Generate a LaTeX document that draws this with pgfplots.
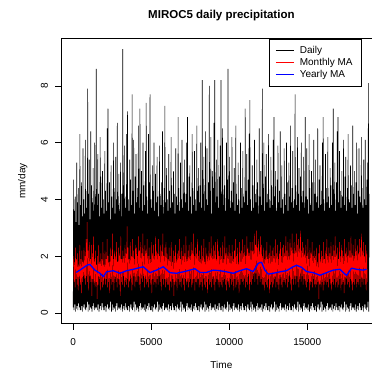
\documentclass[border=0pt]{standalone}
\usepackage{pgfplots}
\pgfplotsset{compat=1.18}
\usepackage{fontspec}
\setmainfont{Liberation Sans}
\begin{document}
\begin{tikzpicture}
\begin{axis}[
  scale only axis, width=320pt, height=285pt,
  xmin=-760, xmax=19760, ymin=-0.37, ymax=9.67,
  xtick={0,5000,10000,15000}, ytick={0,2,4,6,8},
  scaled ticks=false,
  /pgf/number format/1000 sep={},
  /pgf/number format/assume math mode=true,
  tick pos=left, tick align=outside, major tick length=6pt,
  tick style={black, line width=0.5pt},
  axis line style={black, line width=0.6pt},
  ticklabel style={font=\fontsize{10}{11}\selectfont},
  yticklabel style={xshift=-4pt, rotate=90, anchor=south},
  xticklabel style={anchor=north, yshift=-5pt},
  title={\bfseries MIROC5 daily precipitation},
  title style={font=\fontsize{11.5}{13}\selectfont, at={(axis description cs:0.5,1.0474)}, anchor=base},
  xlabel={Time},
  xlabel style={font=\fontsize{10}{11}\selectfont, at={(axis description cs:0.5,-0.157)}, anchor=base},
  ylabel={mm/day},
  ylabel style={font=\fontsize{10}{11}\selectfont, at={(axis description cs:-0.1125,0.5)}, anchor=base},
  legend style={at={(axis description cs:0.936,1)}, anchor=north east,
    font=\fontsize{10}{12}\selectfont, cells={anchor=west}, nodes={inner sep=1.6pt},
    row sep=0pt, column sep=4pt, inner xsep=6.5pt, inner ysep=6pt},
  legend image code/.code={\draw[#1, line width=0.9pt] (0pt,0pt) -- (18pt,0pt);},
]
\addplot[black, line width=0.6pt, line join=bevel] table[x expr=\coordindex*25, y index=0, header=false, row sep=\\] {
0.2\\4.7\\0.1\\3.6\\0.3\\4.1\\0.05\\3.2\\0.15\\5.3\\0.25\\3.9\\0.1\\4.4\\0.35\\3.1\\0.2\\6.3\\0.1\\3.8\\
0.1\\4.6\\0.25\\3.4\\0.05\\5.8\\0.2\\4.0\\0.3\\3.5\\0.15\\6.1\\0.1\\4.3\\0.2\\3.7\\0.4\\7.9\\0.05\\4.2\\
0.3\\5.4\\0.1\\3.3\\0.2\\6.4\\0.15\\4.5\\0.05\\3.9\\0.25\\5.1\\0.35\\3.6\\0.1\\6.0\\0.2\\4.1\\0.15\\8.6\\
0.2\\3.8\\0.1\\5.6\\0.3\\4.2\\0.05\\3.4\\0.15\\6.2\\0.25\\4.8\\0.1\\3.7\\0.35\\5.0\\0.2\\4.0\\0.1\\3.5\\
0.1\\5.7\\0.25\\4.3\\0.05\\3.6\\0.2\\6.5\\0.3\\7.2\\0.15\\3.9\\0.1\\4.6\\0.2\\3.3\\0.4\\5.2\\0.05\\4.1\\
0.3\\3.7\\0.1\\6.0\\0.2\\4.4\\0.15\\3.5\\0.05\\5.5\\0.25\\4.0\\0.35\\6.7\\0.1\\3.8\\0.2\\4.9\\0.15\\3.6\\
0.2\\5.3\\0.1\\4.2\\0.3\\3.4\\0.05\\9.3\\0.15\\4.5\\0.25\\5.9\\0.1\\3.7\\0.35\\4.1\\0.2\\6.3\\0.1\\7.1\\
0.1\\4.0\\0.25\\3.6\\0.05\\5.4\\0.2\\4.7\\0.3\\3.8\\0.15\\7.7\\0.1\\4.3\\0.2\\6.1\\0.4\\3.5\\0.05\\4.8\\
0.3\\5.6\\0.1\\3.9\\0.2\\4.4\\0.15\\6.6\\0.05\\3.7\\0.25\\7.2\\0.35\\4.2\\0.1\\5.0\\0.2\\3.6\\0.15\\6.0\\
0.2\\4.5\\0.1\\3.8\\0.3\\5.7\\0.05\\7.4\\0.15\\4.1\\0.25\\3.5\\0.1\\6.3\\0.35\\4.6\\0.2\\7.7\\0.1\\4.0\\
0.1\\3.7\\0.25\\5.2\\0.05\\4.3\\0.2\\6.0\\0.3\\3.6\\0.15\\4.9\\0.1\\3.9\\0.2\\5.5\\0.4\\4.1\\0.05\\3.4\\
0.3\\5.9\\0.1\\4.2\\0.2\\3.8\\0.15\\4.6\\0.05\\6.4\\0.25\\3.5\\0.35\\4.4\\0.1\\7.3\\0.2\\3.9\\0.15\\5.1\\
0.2\\4.0\\0.1\\3.6\\0.3\\5.6\\0.05\\4.3\\0.15\\3.7\\0.25\\6.2\\0.1\\4.5\\0.35\\3.9\\0.2\\5.0\\0.1\\4.2\\
0.1\\3.5\\0.25\\5.8\\0.05\\4.1\\0.2\\3.8\\0.3\\6.9\\0.15\\4.4\\0.1\\3.6\\0.2\\5.3\\0.4\\4.0\\0.05\\6.1\\
0.3\\3.7\\0.1\\4.6\\0.2\\5.4\\0.15\\3.9\\0.05\\4.2\\0.25\\6.0\\0.35\\6.9\\0.1\\3.6\\0.2\\4.8\\0.15\\5.2\\
0.2\\4.1\\0.1\\3.5\\0.3\\6.3\\0.05\\4.4\\0.15\\3.8\\0.25\\5.7\\0.1\\4.0\\0.35\\3.6\\0.2\\6.6\\0.1\\4.3\\
0.1\\5.1\\0.25\\3.9\\0.05\\4.5\\0.2\\6.0\\0.3\\3.7\\0.15\\8.2\\0.1\\4.2\\0.2\\5.5\\0.4\\3.6\\0.05\\6.4\\
0.3\\4.0\\0.1\\5.8\\0.2\\3.8\\0.15\\4.6\\0.05\\8.0\\0.25\\4.3\\0.35\\6.2\\0.1\\3.5\\0.2\\5.0\\0.15\\4.4\\
0.2\\6.7\\0.1\\8.2\\0.3\\3.9\\0.05\\5.4\\0.15\\4.1\\0.25\\6.1\\0.1\\3.7\\0.35\\4.8\\0.2\\5.9\\0.1\\8.2\\
0.1\\4.2\\0.25\\6.5\\0.05\\3.8\\0.2\\5.2\\0.3\\4.5\\0.15\\3.6\\0.1\\6.0\\0.2\\4.7\\0.4\\8.6\\0.05\\4.0\\
0.3\\5.5\\0.1\\3.7\\0.2\\4.3\\0.15\\6.2\\0.05\\3.9\\0.25\\4.6\\0.35\\5.1\\0.1\\3.6\\0.2\\6.6\\0.15\\4.2\\
0.2\\3.8\\0.1\\5.3\\0.3\\4.0\\0.05\\3.5\\0.15\\6.0\\0.25\\4.4\\0.1\\3.7\\0.35\\5.7\\0.2\\4.1\\0.1\\3.9\\
0.1\\7.2\\0.25\\4.3\\0.05\\5.6\\0.2\\3.8\\0.3\\4.7\\0.15\\6.3\\0.1\\7.5\\0.2\\4.0\\0.4\\3.6\\0.05\\5.2\\
0.3\\4.5\\0.1\\3.7\\0.2\\6.1\\0.15\\4.2\\0.05\\3.9\\0.25\\5.4\\0.35\\4.6\\0.1\\3.5\\0.2\\6.5\\0.15\\4.1\\
0.2\\5.0\\0.1\\3.8\\0.3\\7.9\\0.05\\4.4\\0.15\\6.0\\0.25\\3.6\\0.1\\4.8\\0.35\\5.6\\0.2\\3.9\\0.1\\4.2\\
0.1\\6.3\\0.25\\4.0\\0.05\\3.7\\0.2\\5.5\\0.3\\4.5\\0.15\\3.8\\0.1\\6.1\\0.2\\6.9\\0.4\\4.1\\0.05\\5.0\\
0.3\\3.6\\0.1\\4.7\\0.2\\5.9\\0.15\\3.9\\0.05\\4.3\\0.25\\6.4\\0.35\\3.7\\0.1\\5.2\\0.2\\4.0\\0.15\\3.5\\
0.2\\5.8\\0.1\\4.2\\0.3\\3.8\\0.05\\6.0\\0.15\\4.6\\0.25\\3.6\\0.1\\5.3\\0.35\\4.1\\0.2\\6.6\\0.1\\3.9\\
0.1\\4.4\\0.25\\5.7\\0.05\\3.7\\0.2\\4.0\\0.3\\7.7\\0.15\\4.5\\0.1\\3.8\\0.2\\6.2\\0.4\\4.2\\0.05\\5.1\\
0.3\\3.6\\0.1\\4.8\\0.2\\6.0\\0.15\\3.9\\0.05\\4.3\\0.25\\5.5\\0.35\\3.7\\0.1\\6.9\\0.2\\4.1\\0.15\\5.8\\
0.2\\4.0\\0.1\\3.5\\0.3\\6.3\\0.05\\4.4\\0.15\\3.8\\0.25\\5.0\\0.1\\4.6\\0.35\\3.6\\0.2\\6.1\\0.1\\4.2\\
0.1\\5.4\\0.25\\3.9\\0.05\\4.1\\0.2\\6.5\\0.3\\3.7\\0.15\\4.7\\0.1\\5.2\\0.2\\3.8\\0.4\\4.3\\0.05\\6.0\\
0.3\\6.9\\0.1\\4.0\\0.2\\3.6\\0.15\\5.6\\0.05\\4.4\\0.25\\3.9\\0.35\\6.2\\0.1\\4.1\\0.2\\3.7\\0.15\\5.1\\
0.2\\4.5\\0.1\\3.8\\0.3\\6.0\\0.05\\7.2\\0.15\\4.2\\0.25\\5.3\\0.1\\3.6\\0.35\\4.6\\0.2\\6.4\\0.1\\6.9\\
0.1\\3.9\\0.25\\5.7\\0.05\\4.3\\0.2\\3.7\\0.3\\5.0\\0.15\\4.1\\0.1\\6.1\\0.2\\3.8\\0.4\\4.8\\0.05\\5.5\\
0.3\\3.6\\0.1\\4.4\\0.2\\6.3\\0.15\\4.0\\0.05\\3.9\\0.25\\5.2\\0.35\\4.5\\0.1\\3.7\\0.2\\6.6\\0.15\\4.2\\
0.2\\5.0\\0.1\\3.8\\0.3\\4.6\\0.05\\6.0\\0.15\\3.5\\0.25\\4.3\\0.1\\5.8\\0.35\\4.1\\0.2\\3.9\\0.1\\6.2\\
0.1\\4.4\\0.25\\3.7\\0.05\\5.4\\0.2\\4.0\\0.3\\6.1\\0.15\\3.8\\0.1\\4.7\\0.2\\5.3\\0.4\\8.1\\0.05\\4.2\\
};
\addplot[red, line width=0.4pt, line join=bevel] table[x expr=15+\coordindex*33.7, y index=0, header=false, row sep=\\] {
2.0\\1.1\\1.8\\0.9\\2.3\\1.2\\1.9\\1.0\\2.1\\0.8\\1.7\\1.2\\2.4\\1.0\\1.9\\0.7\\2.2\\1.1\\1.8\\1.3\\
2.3\\1.2\\2.0\\1.0\\2.6\\1.3\\3.2\\1.1\\2.2\\0.8\\2.5\\1.3\\1.9\\1.1\\2.4\\0.6\\2.1\\1.2\\2.7\\1.0\\
1.9\\0.9\\2.2\\1.1\\1.7\\0.5\\2.0\\1.0\\2.4\\1.2\\1.8\\0.8\\2.1\\1.1\\1.9\\0.9\\2.5\\1.0\\1.7\\1.2\\
2.2\\1.0\\1.9\\1.2\\2.6\\0.9\\2.0\\1.1\\1.8\\0.7\\2.3\\1.2\\2.0\\1.0\\2.8\\1.1\\1.9\\0.8\\2.2\\1.2\\
2.0\\1.1\\2.5\\0.9\\1.8\\1.2\\2.3\\1.0\\2.1\\0.6\\2.7\\1.1\\1.9\\1.0\\2.2\\1.3\\2.0\\0.9\\2.4\\1.1\\
2.1\\1.0\\3.05\\1.2\\2.3\\0.9\\1.9\\1.1\\2.5\\1.2\\2.0\\0.8\\2.6\\1.0\\2.2\\1.3\\1.9\\0.9\\2.4\\1.1\\
2.3\\1.1\\2.0\\1.3\\2.7\\1.0\\2.2\\0.8\\2.5\\1.2\\2.1\\1.1\\2.8\\1.3\\2.0\\0.9\\2.4\\1.2\\2.2\\1.0\\
2.6\\1.1\\2.0\\0.9\\2.3\\1.2\\1.9\\1.0\\2.5\\0.7\\2.1\\1.2\\2.4\\1.0\\2.0\\1.1\\2.7\\0.9\\2.2\\1.2\\
2.1\\1.0\\2.6\\1.3\\2.0\\1.1\\2.4\\0.8\\2.2\\1.2\\2.8\\1.0\\2.0\\1.2\\2.3\\0.9\\2.5\\1.1\\2.1\\1.0\\
1.9\\1.0\\2.3\\0.8\\2.0\\1.1\\2.5\\0.9\\1.8\\1.2\\2.2\\0.6\\2.0\\1.0\\2.4\\1.1\\1.9\\0.8\\2.1\\1.2\\
2.2\\1.0\\2.6\\1.1\\1.9\\0.9\\2.3\\1.2\\2.0\\1.0\\2.4\\0.8\\2.1\\1.2\\2.7\\1.0\\1.9\\1.1\\2.2\\0.9\\
2.4\\1.1\\2.0\\1.2\\2.5\\0.9\\2.2\\1.0\\2.8\\1.2\\2.0\\0.8\\2.3\\1.1\\2.1\\1.0\\2.6\\1.2\\2.0\\0.9\\
2.2\\1.0\\1.9\\1.1\\2.4\\0.8\\2.0\\1.2\\2.6\\1.0\\1.8\\0.9\\2.3\\1.1\\2.1\\0.7\\2.0\\1.2\\2.5\\1.0\\
2.1\\1.1\\2.7\\0.9\\2.0\\1.2\\2.4\\1.0\\2.2\\0.8\\2.5\\1.1\\1.9\\1.2\\2.6\\1.0\\2.2\\0.9\\2.0\\1.1\\
2.3\\1.0\\2.0\\0.9\\2.5\\1.1\\1.9\\1.2\\2.7\\1.0\\2.1\\0.8\\2.3\\1.1\\2.0\\1.0\\2.4\\0.9\\2.1\\1.2\\
2.0\\1.0\\2.4\\1.1\\1.9\\0.8\\2.2\\1.2\\2.6\\0.9\\2.0\\1.0\\2.3\\1.1\\1.8\\0.7\\2.5\\1.0\\2.1\\1.2\\
2.2\\1.1\\2.6\\1.0\\2.1\\1.2\\2.4\\0.9\\2.0\\1.1\\2.7\\1.0\\2.3\\1.3\\2.1\\0.8\\2.5\\1.1\\2.2\\1.0\\
2.5\\1.2\\2.2\\1.3\\2.8\\1.1\\2.4\\1.4\\2.9\\1.2\\2.3\\1.0\\2.6\\1.3\\2.2\\1.1\\2.7\\1.2\\2.4\\1.0\\
2.0\\1.0\\2.3\\0.8\\1.9\\1.1\\2.2\\1.0\\2.5\\0.9\\1.9\\1.2\\2.1\\0.7\\2.4\\1.0\\2.0\\1.1\\2.2\\0.9\\
2.3\\1.0\\2.0\\1.2\\2.6\\0.9\\2.1\\1.1\\2.4\\1.0\\1.9\\0.8\\2.2\\1.2\\2.5\\1.0\\2.0\\0.9\\2.3\\1.1\\
2.4\\1.1\\2.1\\1.0\\2.7\\1.2\\2.2\\0.9\\2.5\\1.1\\2.0\\1.3\\2.6\\1.0\\2.3\\0.8\\2.8\\1.2\\2.1\\1.0\\
2.5\\1.2\\2.2\\1.0\\2.8\\1.3\\2.4\\1.1\\2.6\\0.9\\2.3\\1.2\\2.9\\1.1\\2.2\\1.3\\2.5\\1.0\\2.3\\1.2\\
2.1\\1.0\\2.4\\0.9\\2.0\\1.1\\2.6\\1.2\\1.9\\0.8\\2.3\\1.0\\2.1\\1.1\\2.5\\0.9\\2.0\\1.2\\2.2\\1.0\\
2.0\\0.9\\2.3\\1.0\\1.8\\1.1\\2.1\\0.5\\2.4\\1.0\\1.9\\0.9\\2.2\\1.1\\2.0\\0.8\\2.5\\1.0\\1.9\\1.1\\
2.2\\1.0\\2.6\\1.1\\2.0\\0.9\\2.3\\1.2\\2.1\\1.0\\2.5\\0.8\\2.0\\1.1\\2.4\\1.0\\2.2\\1.2\\2.7\\0.9\\
2.1\\1.1\\2.3\\0.9\\1.9\\1.0\\2.5\\1.2\\2.0\\0.8\\2.4\\1.0\\2.2\\1.1\\2.0\\0.7\\2.6\\1.0\\2.1\\1.2\\
2.3\\1.0\\2.0\\1.1\\2.5\\0.9\\2.2\\1.2\\2.7\\1.0\\2.1\\0.8\\2.4\\1.1\\2.0\\1.0\\2.6\\1.2\\2.2\\0.9\\
2.4\\1.1\\2.1\\1.0\\2.6\\1.2\\2.3\\0.9\\2.8\\1.1\\2.2\\1.0\\2.5\\1.2\\2.0\\1.0\\2.4\\0.8\\2.2\\1.1\\
};
\addplot[blue, line width=1.3pt, line join=round] coordinates {
(182,1.43)(427,1.51)(897,1.69)(1069,1.71)(1389,1.51)(1710,1.40)(1923,1.28)(2137,1.45)(2564,1.49)(2992,1.40)
(3419,1.49)(3847,1.54)(4488,1.63)(4915,1.42)(5343,1.51)(5770,1.63)(6197,1.42)(6625,1.40)(7052,1.45)(7480,1.51)
(7800,1.56)(8121,1.43)(8548,1.43)(8975,1.51)(9403,1.49)(9830,1.45)(10258,1.40)(10685,1.49)(11112,1.56)(11540,1.46)
(11860,1.75)(12074,1.79)(12288,1.51)(12501,1.37)(12822,1.40)(13249,1.45)(13677,1.49)(14104,1.63)(14318,1.68)(14639,1.61)
(14959,1.46)(15386,1.42)(15814,1.33)(16241,1.42)(16669,1.51)(17096,1.54)(17523,1.32)(17844,1.58)(18165,1.54)(18592,1.51)
(18806,1.54)
};
\legend{Daily, Monthly MA, Yearly MA}
\end{axis}
\pgfresetboundingbox
\path[use as bounding box] ([shift={(-61.4pt,-46.5pt)}]current axis.south west) rectangle ([shift={(310.6pt,323.5pt)}]current axis.south west);
\end{tikzpicture}
\end{document}
